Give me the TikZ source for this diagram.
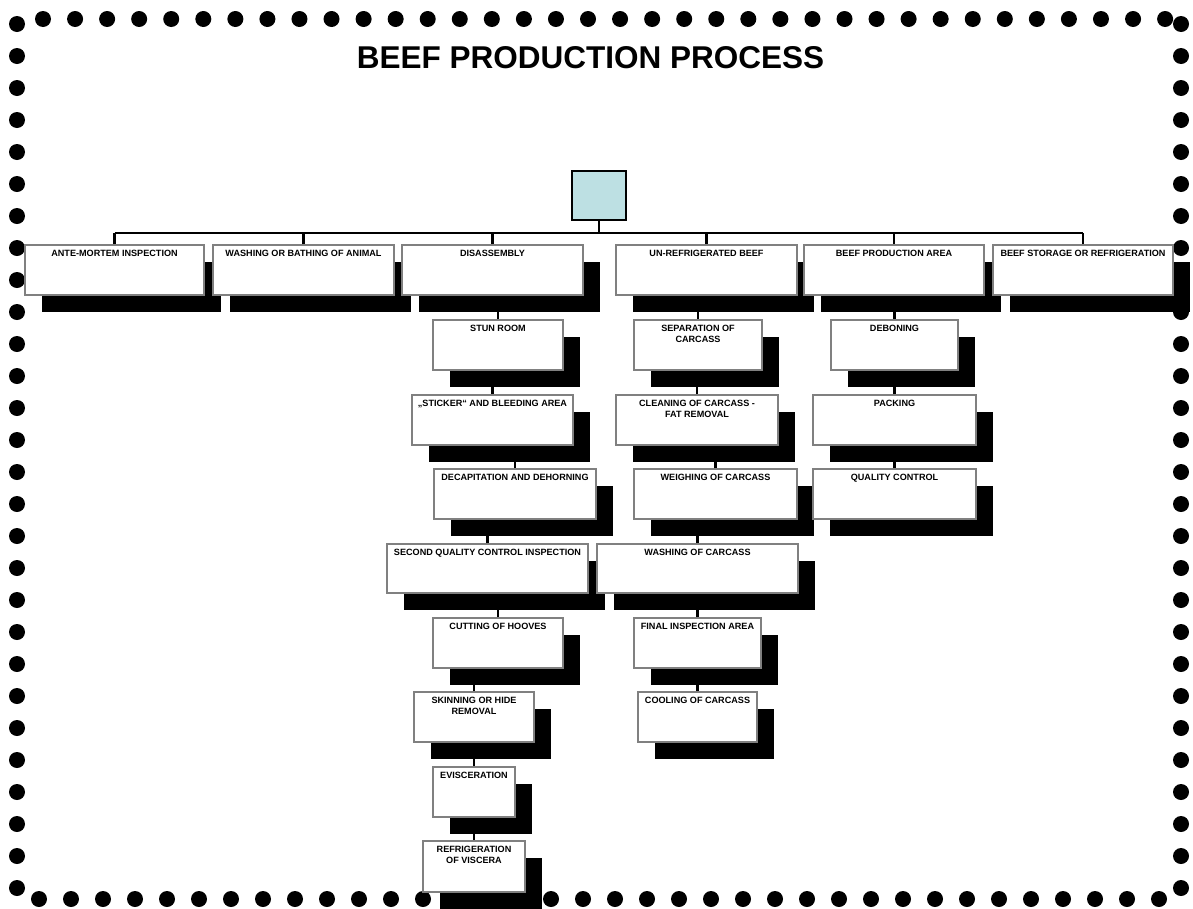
\documentclass[tikz,border=0pt]{standalone}
\usepackage{fontspec}
\setmainfont{Liberation Sans}
\pgfdeclarelayer{bg}
\pgfsetlayers{bg,main}
\definecolor{topblue}{RGB}{189,224,227}
\definecolor{boxgray}{RGB}{128,128,128}
\tikzset{
  conn/.style={line width=2.4pt, black},
  procbox/.style={draw=boxgray, line width=2pt, fill=white, inner sep=0pt},
  shadowbox/.style={fill=black, draw=none, inner sep=0pt},
  boxtext/.style={anchor=north, inner sep=0pt, yshift=-5.5pt, font=\fontsize{9.1}{11}\selectfont\bfseries, align=center},
  topbox/.style={draw=black, line width=1.5pt, fill=topblue, inner sep=0pt},
  titletext/.style={font=\fontsize{31.5}{36}\selectfont\bfseries, anchor=base, inner sep=0pt}
}
\newcommand{\pbox}[6]{%
  \begin{pgfonlayer}{bg}
    \node[shadowbox, minimum width={(#4-#2)*1pt}, minimum height={(#5-#3)*1pt}] (#1-s) at ({(#2+#4)/2+16.5},{(#3+#5)/2+16.5}) {};
  \end{pgfonlayer}
  \node[procbox, minimum width={(#4-#2)*1pt}, minimum height={(#5-#3)*1pt}, label={[boxtext]north:{#6}}] (#1) at ({(#2+#4)/2},{(#3+#5)/2}) {};
}
\begin{document}
\begin{tikzpicture}[x=1pt,y=-1pt]
\useasboundingbox (0,0) rectangle (1193,908);
% dotted border
\begin{pgfonlayer}{bg}
  \foreach \k in {0,...,35} {
    \fill (43+32.06*\k,19) circle (8pt);
    \fill (39+32*\k,899) circle (8pt);
  }
  \foreach \k in {0,...,27} {
    \fill (17,24+32*\k) circle (8pt);
    \fill (1181,24+32*\k) circle (8pt);
  }
\end{pgfonlayer}
% title
\node[titletext] (title) at (590.5,68) {BEEF PRODUCTION PROCESS};
% top box
\node[topbox, minimum width=54pt, minimum height=49pt] (top) at (599,195.5) {};
\coordinate (bus) at (599,233);
% row 1
\pbox{ante}{25}{245}{204}{295}{ANTE-MORTEM INSPECTION}
\pbox{wash}{213}{245}{394}{295}{WASHING OR BATHING OF ANIMAL}
\pbox{disa}{402}{245}{583}{295}{DISASSEMBLY}
\pbox{unref}{616}{245}{797}{295}{UN-REFRIGERATED BEEF}
\pbox{bpa}{804}{245}{984}{295}{BEEF PRODUCTION AREA}
\pbox{store}{993}{245}{1173}{295}{BEEF STORAGE OR REFRIGERATION}
% disassembly column
\pbox{stun}{433}{320}{563}{370}{STUN ROOM}
\pbox{stick}{412}{395}{573}{445}{„STICKER“ AND BLEEDING AREA}
\pbox{decap}{434}{469}{596}{519}{DECAPITATION AND DEHORNING}
\pbox{sqc}{387}{544}{588}{593}{SECOND QUALITY CONTROL INSPECTION}
\pbox{hooves}{433}{618}{563}{668}{CUTTING OF HOOVES}
\pbox{skin}{414}{692}{534}{742}{SKINNING OR HIDE\\REMOVAL}
\pbox{evisc}{433}{767}{515}{817}{EVISCERATION}
\pbox{refv}{423}{841}{525}{892}{REFRIGERATION\\OF VISCERA}
% un-refrigerated column
\pbox{sep}{634}{320}{762}{370}{SEPARATION OF\\CARCASS}
\pbox{clean}{616}{395}{778}{445}{CLEANING OF CARCASS -\\FAT REMOVAL}
\pbox{weigh}{634}{469}{797}{519}{WEIGHING OF CARCASS}
\pbox{wcar}{597}{544}{798}{593}{WASHING OF CARCASS}
\pbox{final}{634}{618}{761}{668}{FINAL INSPECTION AREA}
\pbox{cool}{638}{692}{757}{742}{COOLING OF CARCASS}
% beef production column
\pbox{debone}{831}{320}{958}{370}{DEBONING}
\pbox{pack}{813}{395}{976}{445}{PACKING}
\pbox{qc}{813}{469}{976}{519}{QUALITY CONTROL}
% connectors
\draw[conn] (top.south) -- (bus);
\draw[conn] (ante.north |- bus) -- (store.north |- bus);
\foreach \c in {ante,wash,disa,unref,bpa,store}
  \draw[conn] (\c.north) -- (\c.north |- bus);
\foreach \p/\c in {disa/stun, stun/stick, stick/decap, decap/sqc, sqc/hooves, hooves/skin, skin/evisc, evisc/refv,
                   unref/sep, sep/clean, clean/weigh, weigh/wcar, wcar/final, final/cool,
                   bpa/debone, debone/pack, pack/qc}
  \draw[conn] (\c.north) -- (\c.north |- \p-s.south);
\end{tikzpicture}
\end{document}
